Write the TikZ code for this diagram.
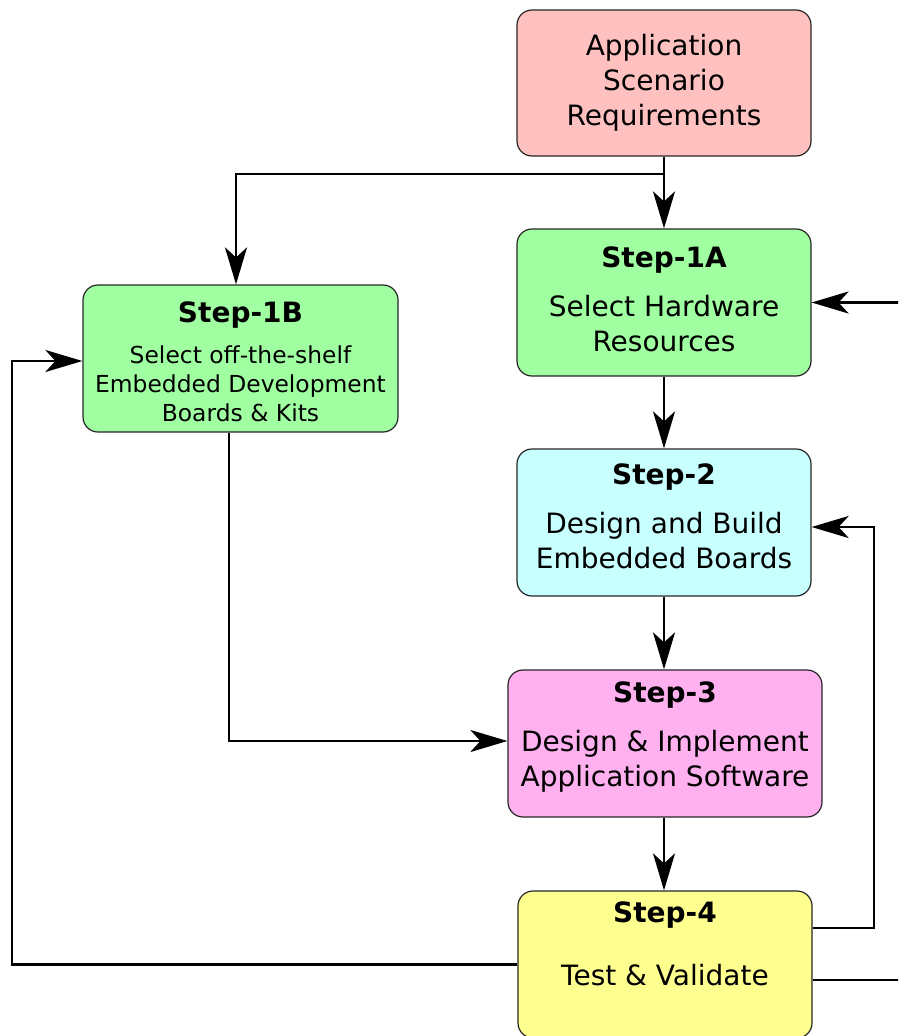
\documentclass[tikz,border=0pt]{standalone}
\usepackage{fontspec}
\setmainfont{DejaVu Sans}
\usetikzlibrary{arrows.meta}
\definecolor{cApp}{RGB}{255,192,192}
\definecolor{cGreen}{RGB}{160,255,160}
\definecolor{cCyan}{RGB}{200,255,255}
\definecolor{cPink}{RGB}{255,176,238}
\definecolor{cYellow}{RGB}{255,255,144}
\tikzset{
 box/.style={draw=black!85, line width=1.2pt, rounded corners=15pt, inner sep=0pt},
 wbox/.style={box, minimum width=294pt, minimum height=147pt},
 ttl/.style={anchor=base, font=\fontsize{28}{34}\bfseries\selectfont, inner sep=0pt},
 txt/.style={anchor=base, font=\fontsize{28}{34}\selectfont, inner sep=0pt},
 stxt/.style={anchor=base, font=\fontsize{23.4}{29}\selectfont, inner sep=0pt},
 ln/.style={line width=2.7pt},
 con/.style={ln, -{Stealth[length=37pt,width=22pt,inset=10pt]}}
}
\begin{document}
\begin{tikzpicture}[x=1pt,y=-1pt]
\useasboundingbox (0,0) rectangle (898,1036);
\clip (0,0) rectangle (898,1036);
% boxes
\node[box, fill=cApp, minimum width=294pt, minimum height=146pt] (app) at (664,83) {};
\node[wbox, fill=cGreen] (s1a) at (664,302.5) {};
\node[box, fill=cGreen, minimum width=315pt, minimum height=147pt] (s1b) at (240.5,358.5) {};
\node[wbox, fill=cCyan] (s2) at (664,522.5) {};
\node[box, fill=cPink, minimum width=314pt, minimum height=147pt] (s3) at (665,743.5) {};
\node[wbox, fill=cYellow] (s4) at (665,964.5) {};
% texts
\node[txt] (appt1) at (664,55) {Application};
\node[txt] (appt2) at (664,90) {Scenario};
\node[txt] (appt3) at (664,125) {Requirements};
\node[ttl] (s1at) at (664,267) {Step-1A};
\node[txt] (s1ab1) at (664,316) {Select Hardware};
\node[txt] (s1ab2) at (664,351) {Resources};
\node[ttl] (s1bt) at (240.5,322) {Step-1B};
\node[stxt] (s1bb1) at (240.5,363.5) {Select off-the-shelf};
\node[stxt] (s1bb2) at (240.5,392.5) {Embedded Development};
\node[stxt] (s1bb3) at (240.5,421.5) {Boards \& Kits};
\node[ttl] (s2t) at (664,484) {Step-2};
\node[txt] (s2b1) at (664,533) {Design and Build};
\node[txt] (s2b2) at (664,568) {Embedded Boards};
\node[ttl] (s3t) at (665,702) {Step-3};
\node[txt] (s3b1) at (665,751.5) {Design \& Implement};
\node[txt] (s3b2) at (665,786.5) {Application Software};
\node[ttl] (s4t) at (665,922) {Step-4};
\node[txt] (s4b) at (665,985) {Test \& Validate};
% helper coordinates
\coordinate (j1) at (664,174);
\coordinate (l1) at (12,0);
\coordinate (r1) at (874,928);
\coordinate (r2) at (874,527);
\coordinate (o1) at (902,302.5);
\coordinate (o2) at (902,980);
% connectors
\draw[con] (app) -- (s1a);
\draw[con] (j1) -| ([xshift=-4.5pt]s1b.north);
\draw[con] (s1a) -- (s2);
\draw[con] (s2.south) -- (s2.south |- s3.north);
\draw[con] (s3.south -| s2.south) -- (s2.south |- s4.north);
\draw[con] ([xshift=-11.5pt]s1b.south) |- ([yshift=2.5pt]s3.west);
\draw[con] (s4.west) -- (l1 |- s4.west) |- ([yshift=-2.5pt]s1b.west);
\draw[con] ([yshift=36.5pt]s4.east) -- (r1) -- (r2) -- ([yshift=-4.5pt]s2.east);
\draw[ln] ([yshift=-15.5pt]s4.east) -- (o2);
\draw[con] (o1) -- (s1a.east);
\end{tikzpicture}
\end{document}
